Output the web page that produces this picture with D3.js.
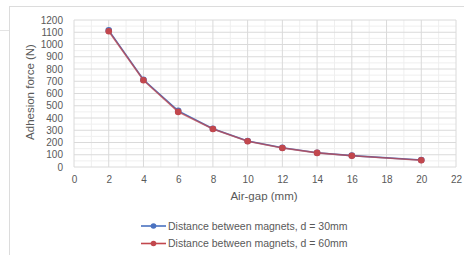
<!DOCTYPE html>
<html><head><meta charset="utf-8">
<script src="https://cdn.jsdelivr.net/npm/d3@7"></script>
<style>body{margin:0;background:#fff;}svg{display:block;}</style>
</head><body><svg id="c" width="464" height="255"></svg>
<script>
const airGap = [2, 4, 6, 8, 10, 12, 14, 16, 20];
const force30 = [1115, 712, 458, 312, 212, 157, 116, 93, 57];
const force60 = [1108, 708, 450, 310, 210, 155, 115, 92, 55];
const seriesNames = ["Distance between magnets, d = 30mm", "Distance between magnets, d = 60mm"];
const xTicks = [0, 2, 4, 6, 8, 10, 12, 14, 16, 18, 20, 22];
const yTicks = [0, 100, 200, 300, 400, 500, 600, 700, 800, 900, 1000, 1100, 1200];
const colors = ["#4a72c0", "#c2474d"];

const svg = d3.select("#c");
const font = "Arial, 'Liberation Sans', sans-serif";
const L = 74, R = 456, T = 20, B = 167;
const x = d3.scaleLinear().domain([0, 22]).range([L, R]);
const y = d3.scaleLinear().domain([0, 1200]).range([B, T]);

// outer frame
svg.append("rect").attr("x", 9.5).attr("y", 6.5).attr("width", 460).attr("height", 260)
  .attr("fill", "none").attr("stroke", "#dcdcdc");
svg.append("line").attr("x1", 0).attr("x2", 9).attr("y1", 30.5).attr("y2", 30.5).attr("stroke", "#e4e4e4");

// minor grid
const g = svg.append("g");
g.selectAll(".mx").data(d3.range(1, 22, 2)).join("line")
  .attr("x1", d => x(d)).attr("x2", d => x(d)).attr("y1", T).attr("y2", B)
  .attr("stroke", "#efefef");
g.selectAll(".my").data(d3.range(50, 1200, 100)).join("line")
  .attr("x1", L).attr("x2", R).attr("y1", d => y(d)).attr("y2", d => y(d))
  .attr("stroke", "#efefef");
// major grid
g.selectAll(".gx").data(xTicks).join("line")
  .attr("x1", d => x(d)).attr("x2", d => x(d)).attr("y1", T).attr("y2", B)
  .attr("stroke", "#dadada");
g.selectAll(".gy").data(yTicks).join("line")
  .attr("x1", L).attr("x2", R).attr("y1", d => y(d)).attr("y2", d => y(d))
  .attr("stroke", "#dadada");

// axes labels
const xa = svg.append("g").attr("transform", `translate(0,${B})`)
  .call(d3.axisBottom(x).tickValues(xTicks).tickFormat(d3.format("d")).tickSize(0).tickPadding(9));
const ya = svg.append("g").attr("transform", `translate(${L},0)`)
  .call(d3.axisLeft(y).tickValues(yTicks).tickFormat(d3.format("d")).tickSize(0).tickPadding(11));
[xa, ya].forEach(a => {
  a.select(".domain").remove();
  a.selectAll("text").attr("fill", "#595959").style("font-family", font).style("font-size", "10px");
});

svg.append("text").attr("x", 264).attr("y", 200).attr("text-anchor", "middle")
  .attr("fill", "#595959").style("font-family", font).style("font-size", "11.5px").text("Air-gap (mm)");
svg.append("text").attr("transform", "translate(34,92) rotate(-90)").attr("text-anchor", "middle")
  .attr("fill", "#595959").style("font-family", font).style("font-size", "11.5px").text("Adhesion force (N)");

// series
const line = d3.line().x(d => x(d[0])).y(d => y(d[1]));
[force30, force60].forEach((vals, i) => {
  const pts = airGap.map((a, k) => [a, vals[k]]);
  svg.append("path").datum(pts).attr("d", line).attr("fill", "none")
    .attr("stroke", colors[i]).attr("stroke-width", 1.6).attr("opacity", i === 1 ? 0.75 : 1);
  svg.selectAll(".p" + i).data(pts).join("circle")
    .attr("cx", d => x(d[0])).attr("cy", d => y(d[1])).attr("r", 3.3).attr("fill", colors[i]);
});

// legend
const leg = svg.append("g");
seriesNames.forEach((n, i) => {
  const yy = 226 + i * 17.5;
  leg.append("line").attr("x1", 141).attr("x2", 166).attr("y1", yy).attr("y2", yy)
    .attr("stroke", colors[i]).attr("stroke-width", 1.6);
  leg.append("circle").attr("cx", 153.5).attr("cy", yy).attr("r", 2.8).attr("fill", colors[i]);
  leg.append("text").attr("x", 168).attr("y", yy + 3.6).attr("fill", "#595959")
    .style("font-family", font).style("font-size", "10.5px").text(n);
});
</script></body></html>
